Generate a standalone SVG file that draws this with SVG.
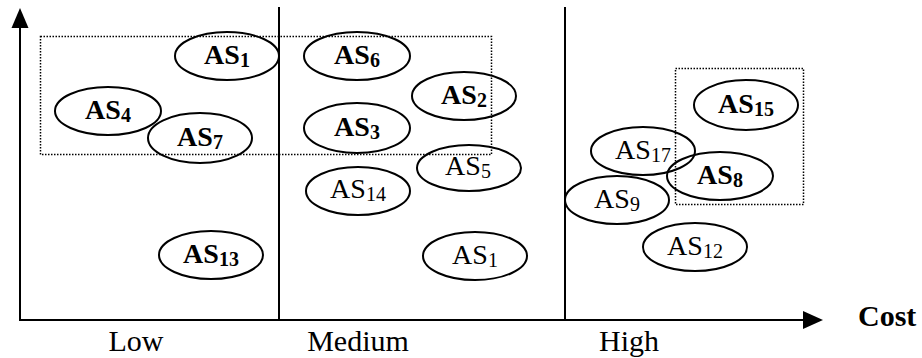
<svg xmlns="http://www.w3.org/2000/svg" width="922" height="358" viewBox="0 0 922 358">
<style>
.ax{stroke:#000;stroke-width:2;fill:none}
.dot{stroke:#000;stroke-width:1.5;fill:none;stroke-dasharray:1.5 1.5}
.el{stroke:#000;stroke-width:2;fill:none}
.t{font-family:"Liberation Serif","Times New Roman",serif;font-size:28px;text-anchor:middle;fill:#000}
.b{font-weight:bold}
.s{font-size:20px}
.lab{font-family:"Liberation Serif","Times New Roman",serif;font-size:30px;fill:#000}
</style>
<rect width="922" height="358" fill="#fff"/>
<g id="axes">
<line class="ax" x1="20" y1="26" x2="20" y2="320"/>
<polygon points="20,8 11.5,28 28.5,28" fill="#000"/>
<line class="ax" x1="19" y1="320" x2="805" y2="320"/>
<polygon points="823,320 803,311 803,329" fill="#000"/>
<line class="ax" x1="279" y1="7" x2="279" y2="320"/>
<line class="ax" x1="565" y1="7" x2="565" y2="320"/>
</g>
<g id="groups">
<rect class="dot" x="40.5" y="36.5" width="451" height="118"/>
<rect class="dot" x="675.5" y="68.5" width="128" height="136"/>
</g>
<g id="AS1b"><ellipse class="el" cx="227" cy="56" rx="52" ry="24"/><text class="t b" x="227" y="64">AS<tspan class="s" dy="3">1</tspan></text></g>
<g id="AS4"><ellipse class="el" cx="108" cy="111" rx="53" ry="24"/><text class="t b" x="108" y="119">AS<tspan class="s" dy="3">4</tspan></text></g>
<g id="AS7"><ellipse class="el" cx="200" cy="138" rx="52" ry="25"/><text class="t b" x="200" y="146">AS<tspan class="s" dy="3">7</tspan></text></g>
<g id="AS6"><ellipse class="el" cx="357" cy="56" rx="53" ry="24"/><text class="t b" x="357" y="64">AS<tspan class="s" dy="3">6</tspan></text></g>
<g id="AS2"><ellipse class="el" cx="464" cy="96" rx="52" ry="24"/><text class="t b" x="464" y="104">AS<tspan class="s" dy="3">2</tspan></text></g>
<g id="AS3"><ellipse class="el" cx="357" cy="128" rx="53" ry="25"/><text class="t b" x="357" y="136">AS<tspan class="s" dy="3">3</tspan></text></g>
<g id="AS5"><ellipse class="el" cx="469" cy="168" rx="52" ry="23"/><text class="t" x="468" y="175">AS<tspan class="s" dy="3">5</tspan></text></g>
<g id="AS14"><ellipse class="el" cx="358" cy="191" rx="52" ry="24"/><text class="t" x="358" y="198">AS<tspan class="s" dy="3">14</tspan></text></g>
<g id="AS13"><ellipse class="el" cx="211" cy="255" rx="52" ry="24"/><text class="t b" x="211" y="263">AS<tspan class="s" dy="3">13</tspan></text></g>
<g id="AS1"><ellipse class="el" cx="475" cy="256" rx="52" ry="24"/><text class="t" x="475" y="264">AS<tspan class="s" dy="3">1</tspan></text></g>
<g id="AS15"><ellipse class="el" cx="746" cy="105" rx="52" ry="25"/><text class="t b" x="746" y="113">AS<tspan class="s" dy="3">15</tspan></text></g>
<g id="AS17"><ellipse class="el" cx="643" cy="151" rx="52" ry="24"/><text class="t" x="643" y="159">AS<tspan class="s" dy="3">17</tspan></text></g>
<g id="AS8"><ellipse class="el" cx="720" cy="176" rx="53" ry="24"/><text class="t b" x="720" y="184">AS<tspan class="s" dy="3">8</tspan></text></g>
<g id="AS9"><ellipse class="el" cx="617" cy="200" rx="52" ry="24"/><text class="t" x="617" y="208">AS<tspan class="s" dy="3">9</tspan></text></g>
<g id="AS12"><ellipse class="el" cx="695" cy="247" rx="52" ry="24"/><text class="t" x="695" y="255">AS<tspan class="s" dy="3">12</tspan></text></g>
<g id="labels">
<text class="lab" x="136" y="351" text-anchor="middle">Low</text>
<text class="lab" x="358" y="351" text-anchor="middle">Medium</text>
<text class="lab" x="629" y="351" text-anchor="middle">High</text>
<text class="lab" x="858" y="326" font-weight="bold">Cost</text>
</g>
</svg>
